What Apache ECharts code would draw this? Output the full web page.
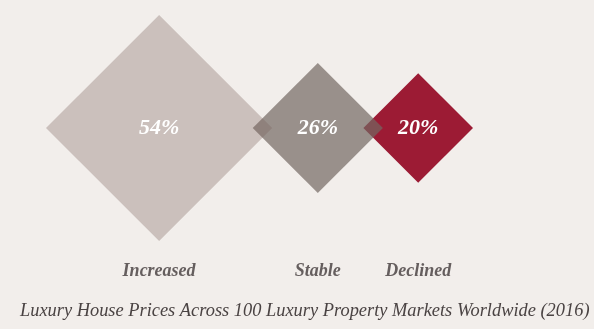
<!DOCTYPE html>
<html>
<head>
<meta charset="utf-8">
<script src="https://cdn.jsdelivr.net/npm/echarts@6/dist/echarts.min.js"></script>
<style>
html,body{margin:0;padding:0;background:#f2eeeb;}
#chart{width:594px;height:329px;}
</style>
</head>
<body>
<div id="chart"></div>
<script>
var categories = ['Increased', 'Stable', 'Declined'];
var values = [54, 26, 20];
var valueLabels = ['54%', '26%', '20%'];
var titleText = 'Luxury House Prices Across 100 Luxury Property Markets Worldwide (2016)';

var colors = ['rgba(124,101,95,0.33)', 'rgba(116,104,98,0.7)', '#9c1b34'];
var zOrder = [3, 2, 1];

// diamond diagonal size scale (linear in value)
function sizeOf(v) { return 3.43 * v + 41; }
var startX = 46, overlap = 19.5;
var centers = [];
var cursor = startX;
values.forEach(function (v, i) {
  var s = sizeOf(v);
  if (i > 0) cursor -= overlap;
  centers.push(cursor + s / 2);
  cursor += s;
});

var serif = '"Liberation Serif", "DejaVu Serif", serif';
var series = [];
values.forEach(function (v, i) {
  series.push({
    type: 'scatter',
    symbol: 'diamond',
    symbolSize: sizeOf(v),
    z: zOrder[i],
    silent: true,
    itemStyle: { color: colors[i], opacity: 1 },
    label: {
      show: true, position: 'inside', formatter: valueLabels[i],
      color: '#ffffff', fontFamily: serif, fontStyle: 'italic', fontWeight: 'bold', fontSize: 22
    },
    data: [[centers[i], 0]]
  });
});
series.push({
  type: 'scatter',
  symbolSize: 0,
  silent: true,
  z: 5,
  itemStyle: { opacity: 1 },
  label: {
    show: true, position: 'inside', offset: [0, 143],
    formatter: function (p) { return p.name; },
    color: '#655e5e', fontFamily: serif, fontStyle: 'italic', fontWeight: 'bold', fontSize: 18
  },
  data: categories.map(function (c, i) { return { name: c, value: [centers[i], 0] }; })
});

var chart = echarts.init(document.getElementById('chart'));
chart.setOption({
  backgroundColor: '#f2eeeb',
  animation: false,
  title: {
    text: titleText, left: 15, top: 297,
    textStyle: { fontFamily: serif, fontStyle: 'italic', fontWeight: 'normal', fontSize: 18.4, color: '#4a4343' }
  },
  grid: { left: 0, right: 0, top: 0, height: 256 },
  xAxis: { type: 'value', min: 0, max: 594, show: false },
  yAxis: { type: 'value', min: -1, max: 1, show: false },
  series: series
});
</script>
</body>
</html>
